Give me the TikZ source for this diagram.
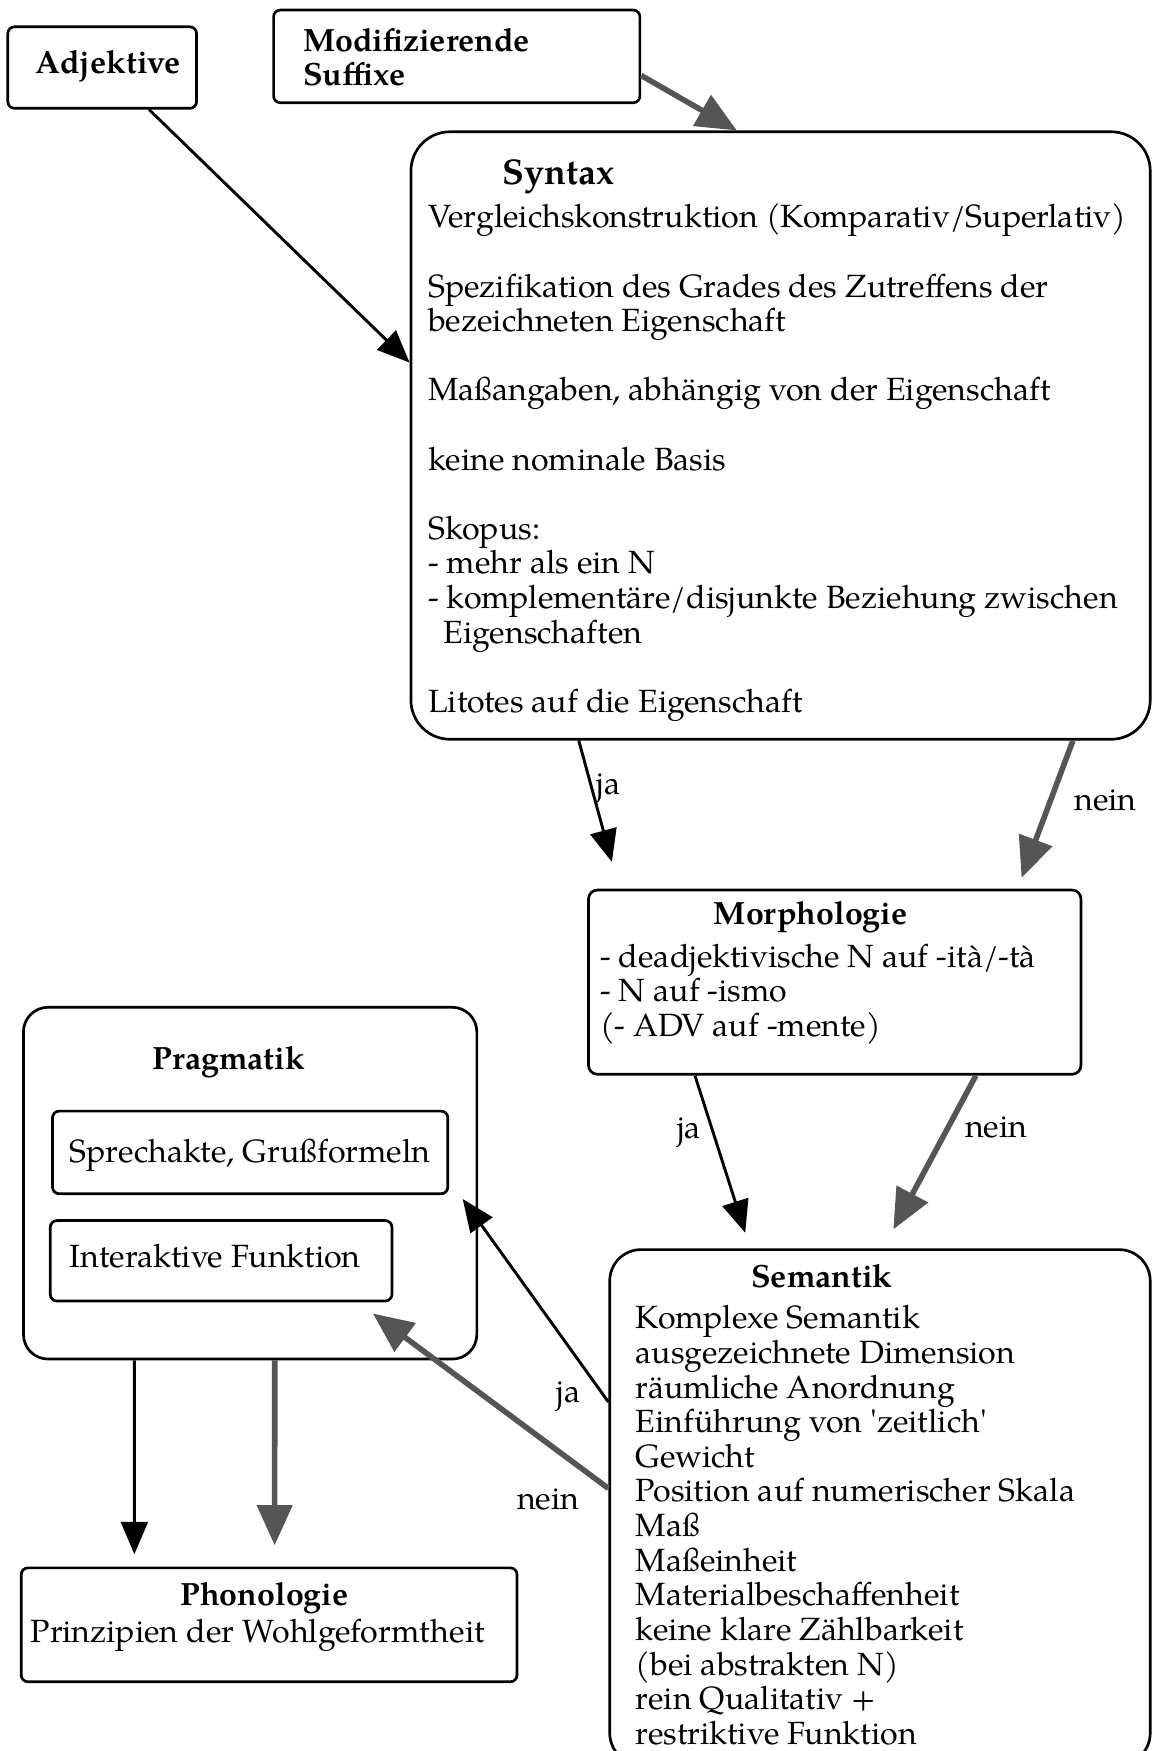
\documentclass[tikz,border=0pt]{standalone}
\usepackage{fontspec}
\setmainfont{TeX Gyre Pagella}
\usetikzlibrary{arrows.meta,calc,fit}
\definecolor{dgray}{RGB}{85,85,85}
\newcommand\myfs{\fontsize{14.4pt}{15.5pt}\selectfont}
\newcommand\mylines[1]{\begin{tabular}[t]{@{}l@{}}#1\end{tabular}}
\begin{document}
\begin{tikzpicture}[x=0.5pt,y=-0.5pt,
  box/.style={draw, line width=1.2pt, rounded corners=3pt, inner sep=0pt},
  txt/.style={inner sep=0pt, anchor=base west, font=\myfs},
  ttl/.style={inner sep=0pt, anchor=base, font=\myfs\bfseries},
  lbl/.style={inner sep=0pt, font=\myfs},
  blk/.style={draw=black, line width=1.3pt, -{Triangle[length=14.5pt,width=12pt]}},
  gry/.style={draw=dgray, line width=2.5pt, -{Triangle[length=18pt,width=15.5pt]}, color=dgray}]
\useasboundingbox (0,0) rectangle (1032,1568);
% boxes
\node[box, fit={(7,24) (176,97)}] (adj) {};
\node[box, fit={(245,9) (573,92)}] (mod) {};
\node[box, rounded corners=17.5pt, fit={(368,118) (1030,662)}] (syn) {};
\node[box, rounded corners=4pt, fit={(527,797) (968,962)}] (mor) {};
\node[box, rounded corners=14pt, fit={(546,1119) (1030,1580)}] (sem) {};
\node[box, rounded corners=11pt, fit={(21,902) (427,1217)}] (prag) {};
\node[box, fit={(47,995) (401,1069)}] (sp) {};
\node[box, fit={(45,1093) (351,1165)}] (ia) {};
\node[box, fit={(19,1404) (463,1506)}] (pho) {};
% texts
\node[lbl, font=\myfs\bfseries] (tadj) at (97,59) {Adjektive};
\node[txt, font=\myfs\bfseries] (tmod) at (271,46) {\mylines{Modifizierende\\Suffixe}};
\node[txt, font=\fontsize{16pt}{18pt}\selectfont\bfseries] (tsyn) at (450,165) {Syntax};
\node[txt] (bsyn) at (383,204) {\mylines{Vergleichskonstruktion (Komparativ/Superlativ)\\[15.5pt]
Spezifikation des Grades des Zutreffens der\\
bezeichneten Eigenschaft\\[15.5pt]
Maßangaben, abhängig von der Eigenschaft\\[15.5pt]
keine nominale Basis\\[15.5pt]
Skopus:\\
- mehr als ein N\\
- komplementäre/disjunkte Beziehung zwischen\\
\hspace*{7pt}Eigenschaften\\[15.5pt]
Litotes auf die Eigenschaft}};
\node[ttl] (tmor) at (726,828) {Morphologie};
\node[txt] (bmor) at (537,866) {\mylines{- deadjektivische N auf -ità/-tà\\
- N auf -ismo\\
(- ADV auf -mente)}};
\node[ttl] (tsem) at (736,1153) {Semantik};
\node[txt] (bsem) at (569,1190) {\mylines{Komplexe Semantik\\
ausgezeichnete Dimension\\
räumliche Anordnung\\
Einführung von \textquotesingle zeitlich\textquotesingle\\
Gewicht\\
Position auf numerischer Skala\\
Maß\\
Maßeinheit\\
Materialbeschaffenheit\\
keine klare Zählbarkeit\\
(bei abstrakten N)\\
rein Qualitativ +\\
restriktive Funktion}};
\node[ttl] (tprag) at (205,958) {Pragmatik};
\node[txt] (tsp) at (62,1041) {Sprechakte, Grußformeln};
\node[txt] (tia) at (62,1135) {Interaktive Funktion};
\node[ttl] (tpho) at (237,1438) {Phonologie};
\node[txt] (bpho) at (27,1471) {Prinzipien der Wohlgeformtheit};
% labels
\node[lbl] (l1) at (545,706) {ja};
\node[lbl] (l2) at (990,717) {nein};
\node[lbl] (l3) at (617,1014) {ja};
\node[lbl] (l4) at (892,1010) {nein};
\node[lbl] (l5) at (509,1251) {ja};
\node[lbl] (l6) at (491,1343) {nein};
% connectors
\draw[blk] ($(adj.south west)!0.7456!(adj.south east)$) -- ($(syn.north west)!0.3805!(syn.south west)$);
\draw[gry] ($(mod.north east)!0.70!(mod.south east)$) -- ($(syn.north west)!0.441!(syn.north east)$);
\draw[blk, shorten >=12.4pt] ($(syn.south west)!0.228!(syn.south east)$) -- ($(mor.north west)!0.0646!(mor.north east)$);
\draw[gry, shorten >=5.3pt] ($(syn.south west)!0.894!(syn.south east)$) -- ($(mor.north west)!0.869!(mor.north east)$);
\draw[blk, shorten >=7.3pt] ($(mor.south west)!0.2177!(mor.south east)$) -- ($(sem.north west)!0.261!(sem.north east)$);
\draw[gry, shorten >=9.6pt] ($(mor.south west)!0.785!(mor.south east)$) -- ($(sem.north west)!0.506!(sem.north east)$);
\draw[blk, shorten >=10.4pt] ($(sem.north west)!0.297!(sem.south west)$) -- ($(sp.north east)!0.824!(sp.south east)$);
\draw[gry, shorten >=8.4pt] ($(sem.north west)!0.464!(sem.south west)$) -- ($(ia.south west)!0.897!(ia.south east)$);
\draw[blk, shorten >=5.5pt] ($(prag.south west)!0.246!(prag.south east)$) -- ($(pho.north west)!0.2297!(pho.north east)$);
\draw[gry, shorten >=9.5pt] ($(prag.south west)!0.554!(prag.south east)$) -- ($(pho.north west)!0.511!(pho.north east)$);
\end{tikzpicture}
\end{document}
